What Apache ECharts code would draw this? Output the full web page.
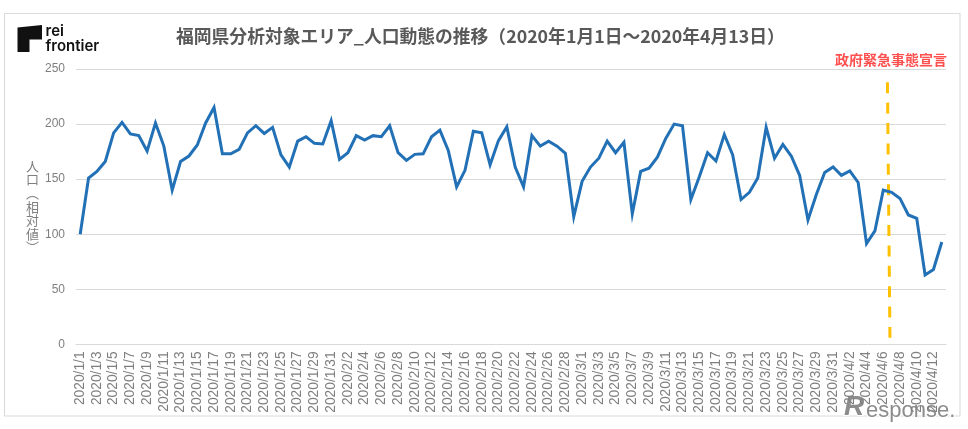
<!DOCTYPE html>
<html lang="ja">
<head>
    <meta charset="utf-8"/>
    <title>福岡県分析対象エリア_人口動態の推移</title>
    <script src="https://cdn.jsdelivr.net/npm/echarts@6/dist/echarts.min.js"></script>
    <style>
        html, body { margin: 0; padding: 0; background: #fff; }
        #main { width: 968px; height: 429px; }
    </style>
</head>
<body>
<div id="main"></div>
<script type="text/javascript">
    // 相対値 (2020/1/1 = 100)
    var janValues = [100, 151, 157, 166, 192, 201.5, 191, 189.5, 175.5, 201, 180, 140, 166, 171, 181, 201, 215, 173, 173, 177, 192, 198.5, 191.5, 197, 172, 161, 184.5, 188.5, 182.5, 182, 203];
    var febValues = [168, 174, 189.5, 185.5, 189.5, 188.5, 198.5, 174, 167, 172.5, 173, 188.5, 194.5, 176, 143, 158, 193.5, 192, 163, 185, 197.5, 161, 143, 189.5, 180, 184.5, 180, 173.5, 116];
    var marValues = [148, 161, 169, 184.5, 174, 183.5, 118.5, 157, 160, 170, 187, 200, 198.5, 131.5, 152, 174, 166.5, 190.5, 172, 131.5, 138, 151, 197, 169, 181.5, 171, 153.5, 113, 136, 156, 161];
    var aprValues = [153.5, 157.5, 147, 91.5, 103, 140, 138, 132.5, 117.5, 114.5, 63, 68, 93];

    var monthValues = [janValues, febValues, marValues, aprValues];
    var categories = [];
    var values = [];
    for (var m = 0; m < monthValues.length; m++) {
        for (var d = 0; d < monthValues[m].length; d++) {
            categories.push('2020/' + (m + 1) + '/' + (d + 1));
            values.push(monthValues[m][d]);
        }
    }

    var yTicks = {min: 0, max: 250, interval: 50};

    // 緊急事態宣言の破線: slightly slanted in the original
    var declarationX = [97.0, 97.3];
    var declarationY = [238, 6];

    var titleText = '福岡県分析対象エリア_人口動態の推移（2020年1月1日～2020年4月13日）';
    var declarationText = '政府緊急事態宣言';
    var yAxisName = ['人', '口', '︵', '相', '対', '値', '︶'];

    var cjkFont = '"Noto Sans CJK JP", "Liberation Sans", sans-serif';
    var latinFont = '"Liberation Sans", "Noto Sans CJK JP", sans-serif';

    var myChart = echarts.init(document.getElementById('main'));

    myChart.setOption({
        animation: false,
        backgroundColor: '#ffffff',
        grid: {left: 76, right: 22, top: 69, bottom: 84.6},
        xAxis: [
            {
                type: 'category',
                data: categories,
                boundaryGap: true,
                axisLine: {lineStyle: {color: '#d9d9d9', width: 1}},
                axisTick: {interval: 1, length: 4, lineStyle: {color: '#d9d9d9'}},
                axisLabel: {
                    interval: 1,
                    rotate: 90,
                    margin: 7,
                    color: '#7f7f7f',
                    fontSize: 13.8,
                    fontFamily: latinFont
                },
                splitLine: {show: false}
            },
            {
                // hidden axis for the annotation line, one unit = one day
                type: 'value',
                min: 0,
                max: categories.length,
                show: false
            }
        ],
        yAxis: {
            type: 'value',
            min: yTicks.min,
            max: yTicks.max,
            interval: yTicks.interval,
            name: yAxisName.join('\n'),
            nameLocation: 'middle',
            nameRotate: 0,
            nameGap: 37,
            nameTextStyle: {color: '#7f7f7f', fontSize: 13, lineHeight: 13.6, fontFamily: cjkFont},
            axisLine: {show: false},
            axisTick: {show: false},
            axisLabel: {margin: 11, color: '#7f7f7f', fontSize: 12, padding: [2, 0, 0, 0], fontFamily: latinFont},
            splitLine: {lineStyle: {color: '#d9d9d9', width: 1}}
        },
        series: [
            {
                name: '人口',
                type: 'line',
                data: values,
                symbol: 'none',
                lineStyle: {color: '#2270b5', width: 3, join: 'miter'}
            },
            {
                name: '政府緊急事態宣言',
                type: 'line',
                xAxisIndex: 1,
                data: [[declarationX[0], declarationY[0]], [declarationX[1], declarationY[1]]],
                symbol: 'none',
                z: 1,
                lineStyle: {color: '#ffc000', width: 3, type: [11, 9.4]}
            }
        ],
        graphic: [
            // 枠
            {
                type: 'rect',
                shape: {x: 4.5, y: 13.5, width: 955.5, height: 402.5},
                style: {fill: 'none', stroke: '#dcdcdc', lineWidth: 1.2},
                z: -1
            },
            // ロゴ
            {
                type: 'polygon',
                shape: {points: [[17.5, 27.5], [42, 25], [42, 39.5], [29.5, 39.5], [29.5, 52], [17.5, 52]]},
                style: {fill: '#111111'}
            },
            {
                type: 'text',
                left: 45.5,
                top: 24,
                style: {
                    text: 'rei\nfrontier',
                    fill: '#111111',
                    font: '600 15px "Inter", "Liberation Sans", sans-serif',
                    lineHeight: 14.5
                }
            },
            // タイトル
            {
                type: 'text',
                left: 176,
                top: 27,
                style: {
                    text: titleText,
                    fill: '#595959',
                    font: 'bold 17.8px ' + cjkFont
                }
            },
            {
                type: 'text',
                left: 835,
                top: 53,
                style: {
                    text: declarationText,
                    fill: '#ff5050',
                    font: 'bold 14px ' + cjkFont
                }
            },
            // 透かし
            {
                type: 'text',
                left: 843,
                top: 392,
                style: {
                    text: 'R',
                    fill: '#8c8c8c',
                    stroke: '#ffffff',
                    lineWidth: 2,
                    font: 'italic bold 28px "Liberation Sans", sans-serif'
                }
            },
            {
                type: 'text',
                left: 865,
                top: 399,
                style: {
                    text: 'esponse.',
                    fill: '#8c8c8c',
                    stroke: '#ffffff',
                    lineWidth: 2,
                    font: '22px "Liberation Sans", sans-serif'
                }
            }
        ]
    });
</script>
</body>
</html>
